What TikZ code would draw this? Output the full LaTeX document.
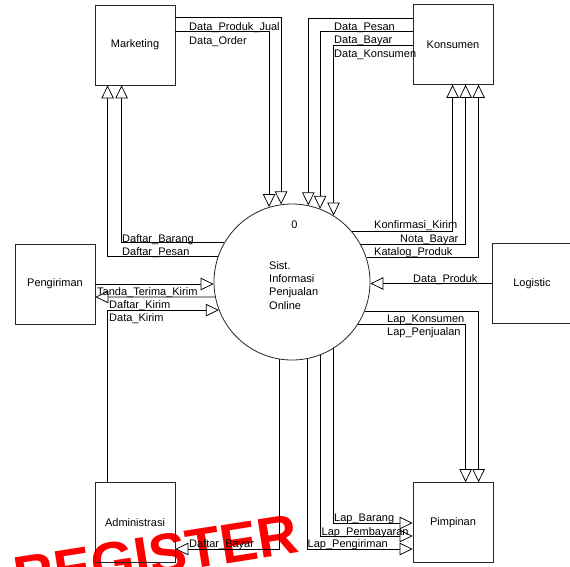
\documentclass[tikz,border=0pt]{standalone}
\usepackage{fontspec}
\setmainfont{Liberation Sans}
\usetikzlibrary{arrows.meta,calc}
\begin{document}
\begin{tikzpicture}[x=1pt,y=-1pt,
  ent/.style={draw=black!85, line width=0.8pt, minimum width=80pt, minimum height=80pt, inner sep=0, font=\fontsize{11}{13}\selectfont},
  proc/.style={draw=black!85, line width=0.8pt, circle, minimum size=156pt, inner sep=0},
  flow/.style={draw=black, line width=0.75pt, -{Triangle[length=13pt,width=12.5pt,fill=white]}},
  lbl/.style={inner sep=0, font=\fontsize{11}{13}\selectfont, text=black},
  wmark/.style={inner sep=0, text=red, font=\fontsize{56}{56}\selectfont\bfseries},
]
\useasboundingbox (0,0) rectangle (570,566);

% watermark (behind the diagram)
\node[wmark, rotate=9, anchor=north east] (wm) at (294,513) {REGISTER};

% entities
\node[ent] (mkt) at (135,45) {Marketing};
\node[ent] (kon) at (453,44.5) {Konsumen};
\node[ent] (pgr) at (55,284) {Pengiriman};
\node[ent] (log) at (532,283.5) {Logistic};
\node[ent] (adm) at (135,522.5) {Administrasi};
\node[ent] (pim) at (453,522.5) {Pimpinan};

% process
\node[proc] (circ) at (292,282) {};
\node[lbl, anchor=base] (pnum) at (294.5,228.5) {0};
\node[lbl, anchor=base west] (c1) at (269,269.3) {Sist.};
\node[lbl, anchor=base west] (c2) at (269,282.6) {Informasi};
\node[lbl, anchor=base west] (c3) at (269,295.9) {Penjualan};
\node[lbl, anchor=base west] (c4) at (269,309.2) {Online};

% Marketing -> process
\draw[flow] ($(mkt.north east)+(0,13)$) -| (circ.98.1);
\draw[flow] ($(mkt.north east)+(0,27)$) -| (circ.107.9);
% Konsumen -> process
\draw[flow] ($(kon.north west)+(0,14.5)$) -| (circ.78.9);
\draw[flow] ($(kon.north west)+(0,27.5)$) -| (circ.69);
\draw[flow] ($(kon.north west)+(0,41)$) -| (circ.58.3);
% process -> Marketing
\draw[flow] (circ.150.8) -| ($(mkt.south west)+(27,0)$);
\draw[flow] (circ.161.3) -| ($(mkt.south west)+(13,0)$);
% process -> Konsumen
\draw[flow] (circ.40.8) -| ($(kon.south west)+(40,0)$);
\draw[flow] (circ.29.2) -| ($(kon.south west)+(53,0)$);
\draw[flow] (circ.18.7) -| ($(kon.south west)+(66,0)$);
% Pengiriman
\draw[flow] (pgr.east) -- (pgr.east -| circ.west);
\draw[flow] (circ.191.1) -- ($(pgr.east)+(0,13)$);
% Administrasi -> process
\draw[flow] ($(adm.north west)+(13,0)$) |- (circ.201);
% Logistic -> process
\draw[flow] (log.west) -- (log.west -| circ.east);
% process -> Pimpinan (right)
\draw[flow] (circ.338.2) -| ($(pim.north west)+(66,0)$);
\draw[flow] (circ.327.4) -| ($(pim.north west)+(53,0)$);
% process -> Administrasi
\draw[flow] (circ.261.9) |- ($(adm.east)+(0,26.5)$);
% process -> Pimpinan (bottom)
\draw[flow] (circ.281.1) |- ($(pim.west)+(0,26.5)$);
\draw[flow] (circ.291.8) |- ($(pim.west)+(0,13.5)$);
\draw[flow] (circ.302.6) |- ($(pim.west)+(0,0.5)$);

% labels
\node[lbl, anchor=base west] (l1) at (189,30) {Data\_Produk\_Jual};
\node[lbl, anchor=base west] (l2) at (189,44) {Data\_Order};
\node[lbl, anchor=base west] (l3) at (334,30.5) {Data\_Pesan};
\node[lbl, anchor=base west] (l4) at (334,43.5) {Data\_Bayar};
\node[lbl, anchor=base west] (l5) at (334,57) {Data\_Konsumen};
\node[lbl, anchor=base west] (l6) at (122,242.5) {Daftar\_Barang};
\node[lbl, anchor=base west] (l7) at (122,255.5) {Daftar\_Pesan};
\node[lbl, anchor=base west] (l8) at (374,228.5) {Konfirmasi\_Kirim};
\node[lbl, anchor=base west] (l9) at (400,242.5) {Nota\_Bayar};
\node[lbl, anchor=base west] (l10) at (374,255.5) {Katalog\_Produk};
\node[lbl, anchor=base west] (l11) at (413,282) {Data\_Produk};
\node[lbl, anchor=base west] (l12) at (387,322) {Lap\_Konsumen};
\node[lbl, anchor=base west] (l13) at (387,335) {Lap\_Penjualan};
\node[lbl, anchor=base west] (l14) at (97,295) {Tanda\_Terima\_Kirim};
\node[lbl, anchor=base west] (l15) at (109,308.5) {Daftar\_Kirim};
\node[lbl, anchor=base west] (l16) at (109,321.5) {Data\_Kirim};
\node[lbl, anchor=base west] (l17) at (189,547.5) {Daftar\_Bayar};
\node[lbl, anchor=base west] (l18) at (334,521.5) {Lap\_Barang};
\node[lbl, anchor=base west] (l19) at (321.5,535) {Lap\_Pembayaran};
\node[lbl, anchor=base west] (l20) at (307.5,547.5) {Lap\_Pengiriman};
\end{tikzpicture}
\end{document}
